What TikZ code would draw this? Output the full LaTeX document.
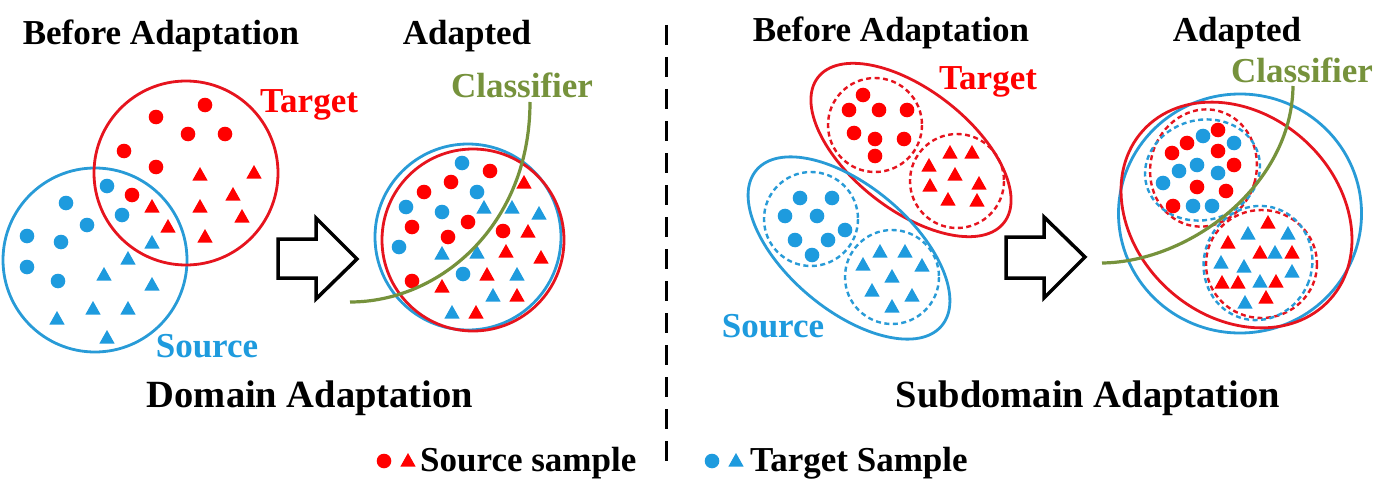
\documentclass[tikz,border=0pt]{standalone}
\usepackage{fontspec}
\setmainfont{Liberation Serif}
\definecolor{cRed}{RGB}{255,0,0}
\definecolor{cRedL}{RGB}{230,20,30}
\definecolor{cBlue}{RGB}{30,155,222}
\definecolor{cBlueL}{RGB}{40,155,215}
\definecolor{cGreen}{RGB}{118,146,60}
\newcommand{\mkRdot}[1]{\fill[cRed] #1 circle[radius=7.3];}
\newcommand{\mkBdot}[1]{\fill[cBlue] #1 circle[radius=7.3];}
\newcommand{\mkRtri}[1]{\fill[cRed] #1 ++(0,-8) -- ++(7.6,13.5) -- ++(-15.2,0) -- cycle;}
\newcommand{\mkBtri}[1]{\fill[cBlue] #1 ++(0,-8) -- ++(7.6,13.5) -- ++(-15.2,0) -- cycle;}
\tikzset{
  lbl/.style={font=\fontsize{35}{40}\selectfont\bfseries, anchor=base, inner sep=0pt},
  big/.style={font=\fontsize{38.5}{44}\selectfont\bfseries, anchor=base, inner sep=0pt},
  solidR/.style={draw=cRedL, line width=2.8},
  solidB/.style={draw=cBlueL, line width=2.8},
  dashR/.style={draw=cRedL, line width=2.4, dash pattern=on 5 off 3.5},
  dashB/.style={draw=cBlueL, line width=2.4, dash pattern=on 5 off 3.5},
  blockarrow/.style={draw=black, line width=3.5, miter limit=10, fill=white},
  classline/.style={draw=cGreen, line width=3.2},
}
\begin{document}
\begin{tikzpicture}[x=1pt,y=-1pt]
\useasboundingbox (0,0) rectangle (1393,495);
\fill[white] (0,0) rectangle (1393,495);

% ---------- titles ----------
\node[lbl] (t1) at (161,45) {Before Adaptation};
\node[lbl] (t2) at (467,45) {Adapted};
\node[lbl] (t3) at (891,42) {Before Adaptation};
\node[lbl] (t4) at (1237,42) {Adapted};

% ---------- left panel: before ----------
\draw[solidB] (95,260) circle[radius=92];
\draw[solidR] (186,173) circle[radius=92];
\foreach \p in {(205,105),(156,117),(188,134),(225,134),(124,151),(156,167),(132,195)} {\mkRdot{\p}}
\foreach \p in {(200,175),(254,173),(233,195),(200,207),(152,207),(242,217),(168,227),(205,237)} {\mkRtri{\p}}
\foreach \p in {(107,186),(66,203),(122,215),(87,225),(27,236),(61,242),(27,267),(58,281)} {\mkBdot{\p}}
\foreach \p in {(152,243),(128,259),(104,275),(152,285),(57,319),(93,309),(128,309),(107,338)} {\mkBtri{\p}}
\node[lbl, text=cRed] (tgtL) at (309,113) {Target};
\node[lbl, text=cBlue] (srcL) at (207,357) {Source};

% arrow left
\draw[blockarrow] (278,239) -- (316,239) -- (316,218) -- (357,259) -- (316,299) -- (316,278) -- (278,278) -- cycle;

% ---------- left panel: adapted ----------
\draw[solidB] (468,237) circle[radius=93];
\draw[solidR] (473,240) circle[radius=91];
\foreach \p in {(462,163),(477,192),(406,207),(442,212),(399,247),(463,274)} {\mkBdot{\p}}
\foreach \p in {(490,171),(451,182),(424,192),(412,227),(468,222),(448,237),(503,231),(412,281)} {\mkRdot{\p}}
\foreach \p in {(484,208),(512,208),(539,214),(442,254),(477,253),(517,275),(493,296),(452,313)} {\mkBtri{\p}}
\foreach \p in {(524,183),(528,232),(506,252),(541,258),(487,275),(442,287),(517,296),(476,313)} {\mkRtri{\p}}
\coordinate (cl1a) at (350,302);
\coordinate (cl1b) at (530,102);
\draw[classline] (cl1a) .. controls (440,302) and (530,225) .. (cl1b);
\node[lbl, text=cGreen] (clsL) at (522,98) {Classifier};

\node[big] (dom) at (310,407) {Domain Adaptation};

% ---------- divider ----------
\coordinate (dv1) at (666,25);
\coordinate (dv2) at (666,465);
\draw[line width=3, dash pattern=on 20 off 12] (dv1) -- (dv2);

% ---------- right panel: before ----------
\draw[solidR, rotate around={-38:(911,150)}] (911,150) ellipse[x radius=118, y radius=60];
\draw[solidB, rotate around={-40:(849,248)}] (849,248) ellipse[x radius=121, y radius=62];
\draw[dashR] (875,125) circle[radius=47];
\draw[dashR] (957,181) circle[radius=47];
\draw[dashB] (811,219) circle[radius=47];
\draw[dashB] (892,277) circle[radius=47];
\foreach \p in {(863,95),(849,110),(879,110),(907,110),(854,133),(875,139),(904,139),(875,156)} {\mkRdot{\p}}
\foreach \p in {(950,153),(972,153),(929,166),(955,175),(930,186),(979,184),(948,200),(977,201)} {\mkRtri{\p}}
\foreach \p in {(800,198),(832,198),(785,216),(817,216),(845,230),(795,240),(828,240),(812,255)} {\mkBdot{\p}}
\foreach \p in {(880,252),(905,252),(863,265),(922,266),(892,277),(872,291),(912,296),(892,307)} {\mkBtri{\p}}
\node[lbl, text=cRed] (tgtR) at (988,90) {Target};
\node[lbl, text=cBlue] (srcR) at (773,337) {Source};

% arrow right
\draw[blockarrow] (1006,237) -- (1044,237) -- (1044,217) -- (1085,257) -- (1044,298) -- (1044,278) -- (1006,278) -- cycle;

% ---------- right panel: adapted ----------
\draw[solidB] (1240,213.5) ellipse[x radius=121.5, y radius=119.5];
\draw[solidR, rotate around={-42:(1236.5,215)}] (1236.5,215) ellipse[x radius=126, y radius=101];
\draw[dashR, rotate around={-15:(1203.5,168)}] (1203.5,168) ellipse[x radius=53, y radius=59];
\draw[dashB, rotate around={15:(1202.5,170)}] (1202.5,170) ellipse[x radius=58, y radius=50];
\draw[dashR] (1261.5,264) ellipse[x radius=55.5, y radius=54];
\draw[dashB, rotate around={-20:(1258,263)}] (1258,263) ellipse[x radius=54, y radius=57.5];
\foreach \p in {(1218,130),(1187,143),(1172,153),(1218,151),(1234,165),(1197,187),(1226,191),(1173,206)} {\mkRdot{\p}}
\foreach \p in {(1203,136),(1234,143),(1197,165),(1179,171),(1218,173),(1163,183),(1193,206),(1212,206)} {\mkBdot{\p}}
\foreach \p in {(1268,223),(1228,243),(1260,253),(1292,253),(1222,283),(1238,283),(1276,282),(1266,298)} {\mkRtri{\p}}
\foreach \p in {(1248,234),(1288,234),(1275,253),(1221,263),(1244,267),(1292,272),(1260,282),(1245,303)} {\mkBtri{\p}}
\coordinate (cl2a) at (1102,263);
\coordinate (cl2b) at (1293,86);
\draw[classline] (cl2a) .. controls (1190,262) and (1292,185) .. (cl2b);
\node[lbl, text=cGreen] (clsR) at (1302,82) {Classifier};

\node[big] (sub) at (1088,407) {Subdomain Adaptation};

% ---------- legend ----------
\mkRdot{(384,461)}
\mkRtri{(408,461)}
\node[lbl, anchor=base west] (legS) at (420,471) {Source sample};
\mkBdot{(712,461)}
\mkBtri{(736,461)}
\node[lbl, anchor=base west] (legT) at (750,471) {Target Sample};
\end{tikzpicture}
\end{document}
